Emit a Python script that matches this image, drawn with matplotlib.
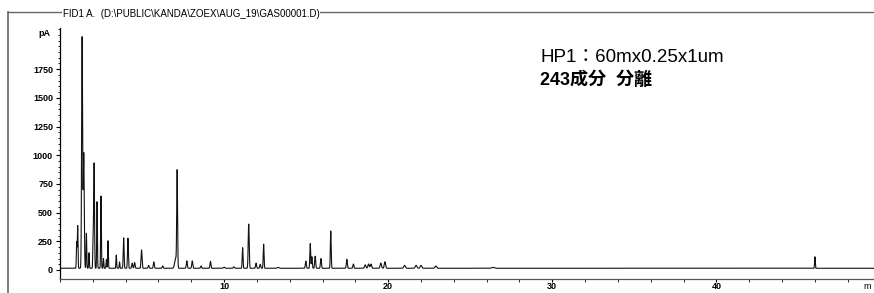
import numpy as np
import matplotlib.pyplot as plt
from matplotlib.lines import Line2D

# peak retention times (min) and heights above baseline (pA)
peak_times = [1.02, 1.08, 1.35, 1.45, 1.61, 1.77, 2.02, 2.08, 2.26, 2.50, 2.65, 2.83, 2.93,
              3.43, 3.63, 3.88, 4.14, 4.40, 4.55, 4.97, 5.40, 5.72, 6.26, 7.05, 7.14, 7.73,
              8.06, 8.60, 9.17, 10.0, 10.6, 11.13, 11.50, 11.95, 12.20, 12.41, 13.3, 14.98,
              15.25, 15.35, 15.55, 15.90, 16.50, 17.48, 17.88, 18.60, 18.80, 18.95, 19.55,
              19.80, 21.00, 21.70, 22.00, 22.90, 26.4, 46.0]
peak_heights = [230, 370, 2015, 1000, 305, 135, 275, 915, 580, 630, 85, 75, 240,
                115, 55, 265, 262, 45, 50, 160, 25, 55, 20, 90, 830, 65,
                65, 20, 60, 10, 12, 180, 385, 45, 35, 210, 8, 62,
                215, 100, 105, 85, 325, 78, 37, 30, 37, 37, 45,
                57, 25, 25, 25, 20, 8, 100]
peak_widths = [0.02, 0.02, 0.03, 0.03, 0.02, 0.02, 0.02, 0.025, 0.02, 0.02, 0.02, 0.02, 0.02,
               0.02, 0.02, 0.025, 0.025, 0.03, 0.03, 0.03, 0.03, 0.03, 0.03, 0.06, 0.025, 0.03,
               0.03, 0.03, 0.03, 0.04, 0.04, 0.025, 0.03, 0.03, 0.03, 0.025, 0.05, 0.03,
               0.025, 0.025, 0.03, 0.03, 0.025, 0.03, 0.03, 0.04, 0.04, 0.04, 0.04,
               0.04, 0.05, 0.05, 0.05, 0.05, 0.08, 0.02]
baseline = 15

y_ticks = [0, 250, 500, 750, 1000, 1250, 1500, 1750]
x_ticks = [10, 20, 30, 40]

t = np.linspace(0, 49.6, 30000)
signal = np.full_like(t, baseline, dtype=float)
for rt, h, w in zip(peak_times, peak_heights, peak_widths):
    signal += h * np.exp(-0.5 * ((t - rt) / w) ** 2)

fig = plt.figure(figsize=(8.74, 2.93), dpi=100)
ax = fig.add_axes([0.0686, 0.048, 0.9314, 0.856])
ax.plot(t, signal, color='#111111', linewidth=0.8)

ax.set_xlim(0, 49.6)
ax.set_ylim(-78, 2108)
ax.set_yticks(y_ticks)
ax.set_yticks(np.arange(0, 2101, 50), minor=True)
ax.set_xticks(x_ticks)
ax.set_xticks(np.arange(0, 50, 2), minor=True)
ax.tick_params(axis='both', which='major', direction='out', length=3, width=0.8,
               labelsize=6.5, pad=2)
ax.tick_params(axis='x', which='major', length=2, pad=0.5)
ax.tick_params(axis='both', which='minor', direction='out', length=1.8, width=0.6)
for lab in ax.get_xticklabels() + ax.get_yticklabels():
    lab.set_fontfamily('Liberation Sans')
    lab.set_fontweight('bold')
ax.spines['top'].set_visible(False)
ax.spines['right'].set_visible(False)
ax.spines['left'].set_linewidth(0.9)
ax.spines['bottom'].set_linewidth(0.9)
ax.spines['bottom'].set_color('#555555')

# scanned page frame
fig.add_artist(Line2D([0.009, 0.009], [0.0, 0.959], color='#666666', linewidth=1.2))
fig.add_artist(Line2D([0.009, 1.0], [0.959, 0.959], color='#666666', linewidth=1.0))
fig.text(0.072, 0.952, r'FID1 A.  (D:\PUBLIC\KANDA\ZOEX\AUG_19\GAS00001.D)',
         fontsize=7, family='Liberation Sans', va='center', ha='left',
         bbox=dict(facecolor='white', edgecolor='none', pad=0.5))
fig.text(0.058, 0.887, 'pA', fontsize=6.5, family='Liberation Sans', fontweight='bold',
         ha='right', va='center')
fig.text(0.997, 0.008, 'm', fontsize=6.5, family='Liberation Sans', ha='right', va='bottom')

fams = ['Liberation Sans', 'Noto Sans CJK JP']
fig.text(0.618, 0.805, 'HP1：60mx0.25x1um', fontsize=13.5, family=fams, ha='left', va='center')
fig.text(0.618, 0.727, '243成分  分離', fontsize=13, family=fams, fontweight='bold',
         ha='left', va='center')

fig.savefig('out.png', dpi=100)
